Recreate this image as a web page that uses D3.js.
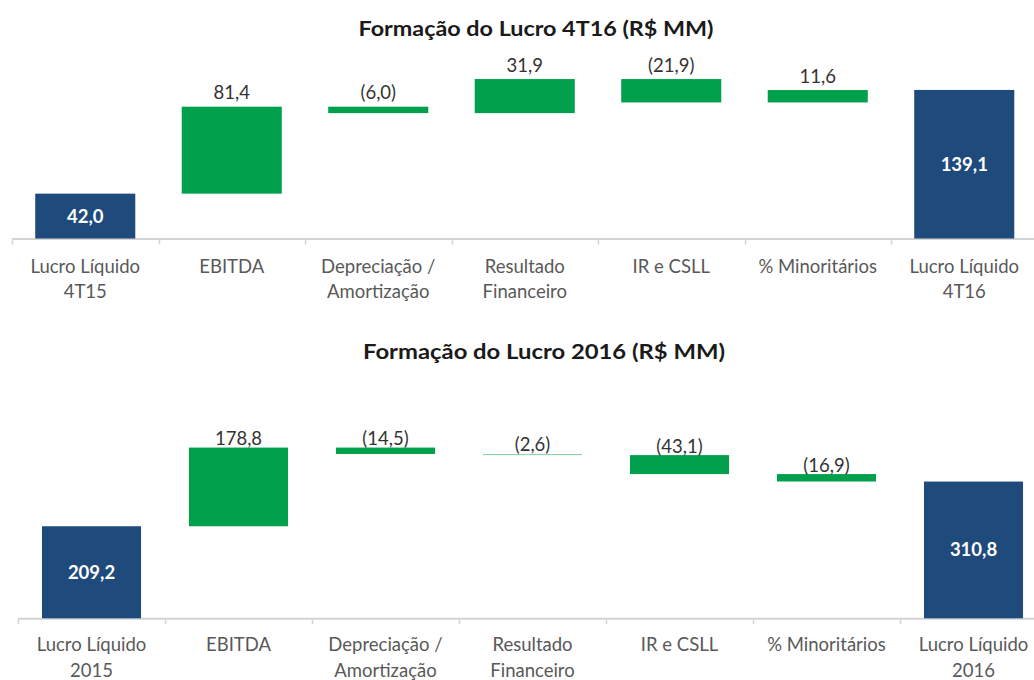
<!DOCTYPE html>
<html>
<head>
<meta charset="utf-8">
<script src="https://cdn.jsdelivr.net/npm/d3@7"></script>
<style>
  body { margin: 0; background: #fff; }
  svg { display: block; font-family: Lato, "Open Sans", sans-serif; }
</style>
</head>
<body>
<svg id="chart" width="1034" height="680"></svg>
<script>
// ---------- DATA ----------
const title1 = "Formação do Lucro 4T16 (R$ MM)";
const categories1 = [["Lucro Líquido","4T15"],["EBITDA"],["Depreciação /","Amortização"],["Resultado","Financeiro"],["IR e CSLL"],["% Minoritários"],["Lucro Líquido","4T16"]];
const values1 = [42.0, 81.4, -6.0, 31.9, -21.9, 11.6, 139.1];

const title2 = "Formação do Lucro 2016  (R$ MM)";
const categories2 = [["Lucro Líquido","2015"],["EBITDA"],["Depreciação /","Amortização"],["Resultado","Financeiro"],["IR e CSLL"],["% Minoritários"],["Lucro Líquido","2016"]];
const values2 = [209.2, 178.8, -14.5, -2.6, -43.1, -16.9, 310.8];

const barTypes = ["total","delta","delta","delta","delta","delta","total"];

// ---------- STYLE ----------
const BLUE = "#1F4A7C", GREEN = "#00A04C", AXIS = "#D4D4D4";
const svg = d3.select("#chart");

function fmt(v) {
  const s = Math.abs(v).toFixed(1).replace(".", ",");
  return v < 0 ? "(" + s + ")" : s;
}

function drawWaterfall(cfg) {
  const g = svg.append("g");
  const keys = cfg.categories.map((c, i) => i);
  const x = d3.scaleBand().domain(keys)
    .range([cfg.x0, cfg.x0 + cfg.step * keys.length])
    .paddingInner(cfg.pad).paddingOuter(cfg.pad / 2);
  const y = d3.scaleLinear().domain(cfg.domain).range([cfg.base, cfg.base - (cfg.domain[1] - cfg.domain[0]) * cfg.ppu]);

  let run = 0;
  const bars = cfg.values.map((v, i) => {
    let lo, hi;
    if (barTypes[i] === "total") { lo = 0; hi = v; run = v; }
    else { const prev = run; run = run + v; lo = Math.min(prev, run); hi = Math.max(prev, run); }
    return { i, v, lo, hi, type: barTypes[i] };
  });

  // title
  g.append("text").attr("x", cfg.titleX).attr("y", cfg.titleY)
    .attr("dy", "0.35em").attr("text-anchor", "middle").attr("font-weight", "bold")
    .attr("font-size", 21).attr("fill", "#1a1a1a")
    .attr("textLength", cfg.titleW).attr("lengthAdjust", "spacingAndGlyphs")
    .text(cfg.title);

  // axis line
  g.append("line").attr("x1", x.range()[0]).attr("x2", 1034)
    .attr("y1", cfg.base + 0.5).attr("y2", cfg.base + 0.5)
    .attr("stroke", AXIS).attr("stroke-width", 2);
  const gap = x.step() - x.bandwidth();
  keys.forEach(k => {
    const tx = Math.round(x(k) - gap / 2) + 0.5;
    g.append("line").attr("x1", tx).attr("x2", tx)
      .attr("y1", cfg.base).attr("y2", cfg.base + 6)
      .attr("stroke", AXIS).attr("stroke-width", 1.5);
  });

  // bars
  g.selectAll("rect.bar").data(bars).join("rect")
    .attr("x", d => x(d.i)).attr("width", x.bandwidth())
    .attr("y", d => y(d.hi)).attr("height", d => Math.max(1, y(d.lo) - y(d.hi)))
    .attr("fill", d => d.type === "total" ? BLUE : GREEN)
    .attr("fill-opacity", d => (d.type !== "total" && y(d.lo) - y(d.hi) < 2) ? 0.45 : 1);

  // value labels
  bars.forEach(d => {
    const cx = x(d.i) + x.bandwidth() / 2;
    if (d.type === "total") {
      g.append("text").attr("x", cx).attr("y", (y(d.hi) + y(d.lo)) / 2)
        .attr("dy", "0.35em").attr("text-anchor", "middle")
        .attr("font-weight", "bold").attr("font-size", 18.5).attr("fill", "#fff")
        .text(fmt(d.v));
    } else {
      g.append("text").attr("x", cx).attr("y", y(d.hi) - cfg.labelOff)
        .attr("dy", "0.35em").attr("text-anchor", "middle")
        .attr("font-size", 18.5).attr("fill", "#333").text(fmt(d.v));
    }
  });

  // category labels
  cfg.categories.forEach((lines, i) => {
    const cx = x(i) + x.bandwidth() / 2;
    lines.forEach((t, j) => {
      g.append("text").attr("x", cx).attr("y", cfg.catY + j * cfg.catLine)
        .attr("dy", "0.35em").attr("text-anchor", "middle")
        .attr("font-size", 18.5).attr("fill", "#595959").text(t);
    });
  });
}

drawWaterfall({
  title: title1, categories: categories1, values: values1,
  x0: 12, step: 146.5, pad: 0.317,
  domain: [0, 150], base: 238.5, ppu: 1.068,
  titleX: 536, titleY: 29, titleW: 355, labelOff: 14, catY: 267, catLine: 25
});
drawWaterfall({
  title: title2, categories: categories2, values: values2,
  x0: 18, step: 147, pad: 0.326,
  domain: [0, 400], base: 618.3, ppu: 0.44,
  titleX: 544, titleY: 352, titleW: 362, labelOff: 9, catY: 645, catLine: 25.5
});
</script>
</body>
</html>
